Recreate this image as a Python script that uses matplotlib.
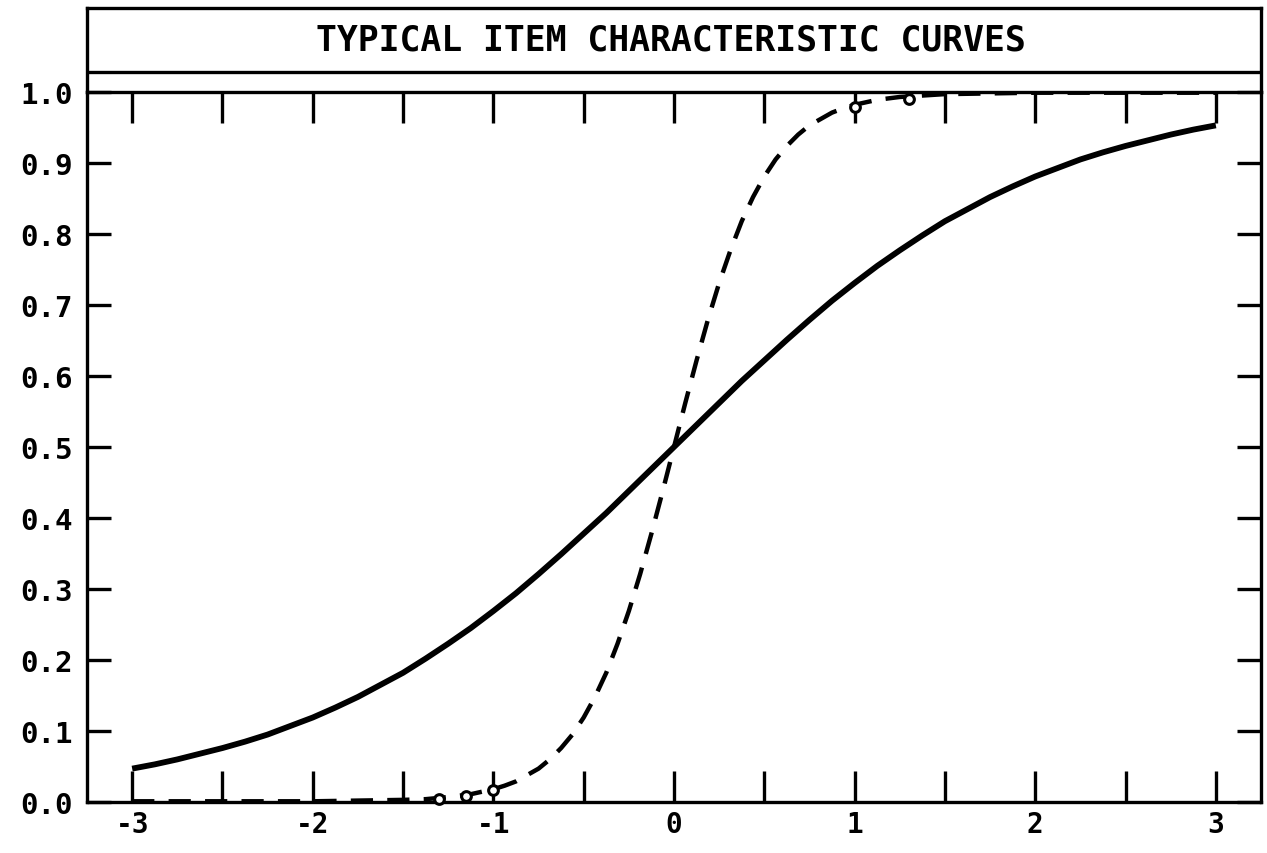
import matplotlib
matplotlib.use("Agg")
import matplotlib.pyplot as plt
from matplotlib.ticker import FixedLocator

# ---- data ----
title = "TYPICAL ITEM CHARACTERISTIC CURVES"

solid_x = [-3.0, -2.875, -2.75, -2.625, -2.5, -2.375, -2.25, -2.125, -2.0, -1.875, -1.75,
           -1.625, -1.5, -1.375, -1.25, -1.125, -1.0, -0.875, -0.75, -0.625, -0.5, -0.375,
           -0.25, -0.125, 0.0, 0.125, 0.25, 0.375, 0.5, 0.625, 0.75, 0.875, 1.0, 1.125,
           1.25, 1.375, 1.5, 1.625, 1.75, 1.875, 2.0, 2.125, 2.25, 2.375, 2.5, 2.625,
           2.75, 2.875, 3.0]
solid_y = [0.047, 0.053, 0.060, 0.068, 0.076, 0.085, 0.095, 0.107, 0.119, 0.133, 0.148,
           0.165, 0.182, 0.202, 0.223, 0.245, 0.269, 0.294, 0.321, 0.349, 0.378, 0.407,
           0.438, 0.469, 0.500, 0.531, 0.562, 0.593, 0.622, 0.651, 0.679, 0.706, 0.731,
           0.755, 0.777, 0.798, 0.818, 0.835, 0.852, 0.867, 0.881, 0.893, 0.905, 0.915,
           0.924, 0.932, 0.940, 0.947, 0.953]

dash_x = [-3.0, -2.5, -2.0, -1.5, -1.375, -1.25, -1.125, -1.0, -0.9375, -0.875, -0.8125,
          -0.75, -0.6875, -0.625, -0.5625, -0.5, -0.4375, -0.375, -0.3125, -0.25, -0.1875,
          -0.125, -0.0625, 0.0, 0.0625, 0.125, 0.1875, 0.25, 0.3125, 0.375, 0.4375, 0.5,
          0.5625, 0.625, 0.6875, 0.75, 0.8125, 0.875, 0.9375, 1.0, 1.125, 1.25, 1.375,
          1.5, 2.0, 2.5, 3.0]
dash_y = [0.001, 0.001, 0.001, 0.003, 0.004, 0.007, 0.011, 0.018, 0.023, 0.029, 0.038,
          0.047, 0.060, 0.076, 0.095, 0.119, 0.148, 0.182, 0.223, 0.269, 0.321, 0.378,
          0.438, 0.500, 0.562, 0.622, 0.679, 0.731, 0.777, 0.818, 0.852, 0.881, 0.905,
          0.924, 0.940, 0.953, 0.962, 0.971, 0.977, 0.982, 0.989, 0.993, 0.995, 0.997,
          0.999, 0.999, 0.999]

marker_x = [-1.3, -1.15, -1.0, 1.0, 1.3]
marker_y = [0.004, 0.008, 0.017, 0.979, 0.99]

xtick_pos = [-3, -2, -1, 0, 1, 2, 3]
xtick_labels = ["-3", "-2", "-1", "0", "1", "2", "3"]
xminor_pos = [-2.5, -1.5, -0.5, 0.5, 1.5, 2.5]
ytick_pos = [0.0, 0.1, 0.2, 0.3, 0.4, 0.5, 0.6, 0.7, 0.8, 0.9, 1.0]
ytick_labels = ["0.0", "0.1", "0.2", "0.3", "0.4", "0.5", "0.6", "0.7", "0.8", "0.9", "1.0"]

# ---- figure ----
W, H = 1267, 854
fig = plt.figure(figsize=(W / 100, H / 100), dpi=100)
font = "DejaVu Sans Mono"

L, R, B, T = 87 / W, 1261 / W, 1 - 803 / H, 1 - 93 / H
ax = fig.add_axes([L, B, R - L, T - B])
ax.set_xlim(-3.25, 3.25)
ax.set_ylim(0.0, 1.0)

ax.plot(solid_x, solid_y, color="black", lw=4.2, solid_capstyle="butt",
        solid_joinstyle="round", zorder=3)
ax.plot(dash_x, dash_y, color="black", lw=3.2, dashes=(5.0, 3.2), zorder=3)
ax.plot(marker_x, marker_y, linestyle="none", marker="o", markersize=7,
        markerfacecolor="white", markeredgecolor="black", markeredgewidth=2.2, zorder=4,
        clip_on=False)

for s in ax.spines.values():
    s.set_linewidth(2.4)

ax.xaxis.set_major_locator(FixedLocator(xtick_pos))
ax.xaxis.set_minor_locator(FixedLocator(xminor_pos))
ax.set_xticklabels(xtick_labels, fontfamily=font, fontweight="bold", fontsize=20)
ax.yaxis.set_major_locator(FixedLocator(ytick_pos))
ax.set_yticklabels(ytick_labels, fontfamily=font, fontweight="bold", fontsize=21)

ax.tick_params(axis="x", which="both", direction="in", top=True, bottom=True,
               length=22, width=2.4, pad=6)
ax.tick_params(axis="y", which="both", direction="in", left=True, right=True,
               length=17, width=2.4, pad=10)

# ---- title box ----
tb = 1 - 9 / H
tax = fig.add_axes([L, T, R - L, tb - T])
tax.set_facecolor("none")
tax.set_xlim(0, 1)
tax.set_ylim(0, 1)
tax.set_xticks([])
tax.set_yticks([])
for s in tax.spines.values():
    s.set_linewidth(2.4)
tax.spines["bottom"].set_visible(False)
tax.axhline((93 - 73) / (93 - 9), color="black", lw=2.4)
tax.text(0.497, 0.63, title, ha="center", va="center", fontfamily=font,
         fontweight="bold", fontsize=25)

fig.savefig("out.png", dpi=100)
